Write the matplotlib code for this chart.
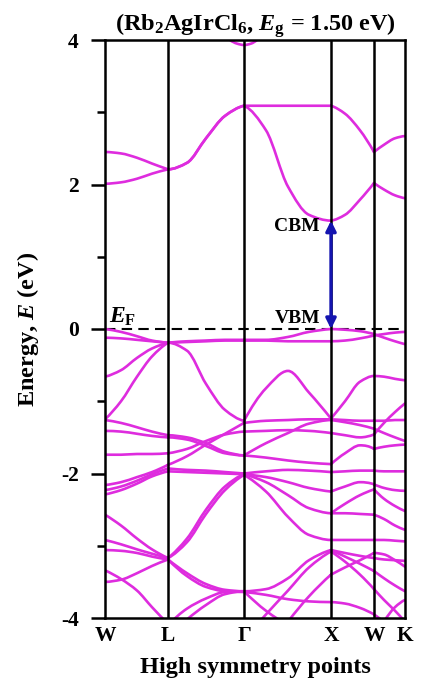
import numpy as np
import matplotlib
matplotlib.use("Agg")
import matplotlib.pyplot as plt
from matplotlib.path import Path
from matplotlib.patches import PathPatch

nan = np.nan

# high symmetry points (path distance, arbitrary units)
sym_labels = ["W", "L", "Γ", "X", "W", "K"]
sym_pos = [0, 63, 139, 226, 269, 300]

# k grid on which bands were read
k_grid = [0, 16, 32, 47, 63, 82, 101, 120, 139, 161, 183, 204, 226, 240, 255, 269, 279, 290, 300]

# conduction bands (eV)
cb1 = [2.01, 2.03, 2.08, 2.15, 2.21, 2.30, 2.64, 2.95, 3.09, 2.75, 1.97, 1.58, 1.50, 1.58, 1.79, 2.02, 1.93, 1.85, 1.81]
cb2 = [2.45, 2.43, 2.37, 2.29, 2.21, 2.30, 2.64, 2.95, 3.09, 3.09, 3.09, 3.09, 3.09, 2.98, 2.75, 2.45, 2.55, 2.64, 2.67]
cb3_k = [118, 125, 132, 139, 146, 152, 160]
cb3 = [4.15, 4.00, 3.95, 3.93, 3.95, 4.00, 4.15]

# valence bands (eV)
vb1 = [0.00, -0.04, -0.10, -0.16, -0.19, -0.17, -0.16, -0.15, -0.15, -0.15, -0.11, -0.04, 0.00, -0.01, -0.03, -0.07, -0.12, -0.17, -0.21]
vb2 = [-0.12, -0.13, -0.15, -0.17, -0.19, -0.18, -0.17, -0.16, -0.16, -0.16, -0.17, -0.17, -0.17, -0.16, -0.13, -0.09, -0.07, -0.05, -0.04]
vb3 = [-0.66, -0.57, -0.40, -0.27, -0.19, -0.30, -0.76, -1.12, -1.27, -0.82, -0.58, -0.88, -1.24, -1.00, -0.73, -0.65, -0.66, -0.69, -0.71]
vb4 = [-1.25, -1.00, -0.66, -0.38, -0.19, nan, nan, nan, nan, nan, nan, nan, nan, nan, nan, nan, nan, nan, nan]
vb5 = [-1.26, -1.30, -1.36, -1.42, -1.47, -1.50, -1.58, -1.70, -1.75, -1.78, -1.82, -1.85, -1.87, -1.72, -1.61, -1.66, -1.63, -1.61, -1.60]
vb6 = [-1.41, -1.42, -1.45, -1.48, -1.50, -1.53, -1.62, -1.72, -1.75, -1.58, -1.44, -1.31, -1.26, -1.29, -1.33, -1.38, -1.44, -1.50, -1.55]
vb7 = [-1.74, -1.74, -1.73, -1.73, -1.72, -1.66, -1.55, -1.46, -1.42, -1.41, -1.40, -1.41, -1.44, -1.47, -1.50, -1.46, -1.30, -1.15, -1.03]
vb8 = [-2.16, -2.12, -2.05, -1.98, -1.88, -1.76, -1.60, -1.45, -1.30, -1.27, -1.26, -1.25, -1.25, -1.26, -1.27, -1.27, -1.27, -1.26, -1.26]
vb9 = [-2.23, -2.18, -2.10, -2.01, -1.93, -1.95, -1.96, -1.98, -2.00, -1.97, -1.95, -1.96, -1.98, -1.97, -1.96, -1.96, -1.97, -1.97, -1.97]
vb10 = [-2.29, -2.23, -2.14, -2.04, -1.97, -1.98, -1.99, -2.00, -2.01, -2.05, -2.12, -2.20, -2.25, -2.18, -2.12, -2.15, -2.20, -2.23, -2.24]
vb11 = [-2.57, -2.72, -2.90, -3.05, -3.17, -2.90, -2.50, -2.18, -2.01, -2.12, -2.30, -2.48, -2.55, -2.42, -2.30, -2.22, -2.35, -2.45, -2.52]
vb12 = [-2.92, -2.98, -3.05, -3.11, -3.17, -2.95, -2.56, -2.23, -2.02, -2.25, -2.60, -2.85, -2.92, -2.92, -2.92, -2.92, -2.92, -2.93, -2.94]
vb13 = [-3.06, -3.07, -3.10, -3.15, -3.19, -3.38, -3.53, -3.61, -3.63, -3.60, -3.45, -3.20, -3.06, -3.15, -3.25, -3.35, -3.45, -3.55, -3.63]
vb14 = [-3.50, -3.47, -3.38, -3.28, -3.19, -3.42, -3.57, -3.63, -3.64, -3.68, -3.74, -3.77, -3.78, -3.80, -3.86, -3.95, -4.05, nan, nan]
vb15 = [-3.34, -3.46, -3.62, -3.85, -4.08, nan, nan, nan, nan, nan, nan, nan, nan, nan, nan, nan, nan, nan, nan]
vb16 = [nan, nan, nan, nan, -4.10, -3.87, -3.73, -3.64, -3.63, -3.90, -4.10, nan, nan, nan, nan, nan, nan, nan, nan]
vb17 = [nan, nan, nan, nan, nan, -4.02, -3.82, -3.67, -3.63, nan, nan, nan, nan, nan, nan, nan, nan, nan, nan]
vb18 = [nan, nan, nan, nan, nan, nan, nan, nan, -4.30, -3.95, -3.62, -3.30, -3.08, -3.22, -3.40, -3.60, -3.75, -3.90, -4.05]
vb19 = [nan, nan, nan, nan, nan, nan, nan, nan, nan, nan, -4.05, -3.70, -3.40, -3.30, -3.20, -3.10, -3.12, -3.20, -3.29]
vb20 = [nan, nan, nan, nan, nan, nan, nan, nan, nan, nan, nan, nan, -3.06, -3.10, -3.14, -3.17, -3.19, -3.20, -3.21]
vb21 = [nan, nan, nan, nan, nan, nan, nan, nan, nan, nan, nan, nan, -2.55, -2.55, -2.56, -2.57, -2.63, -2.72, -2.78]
vb22 = [nan, nan, nan, nan, nan, nan, nan, nan, nan, nan, nan, nan, nan, nan, nan, nan, -4.05, -3.85, -3.75]

conduction = [cb1, cb2]
valence = [vb1, vb2, vb3, vb4, vb5, vb6, vb7, vb8, vb9, vb10, vb11, vb12,
           vb13, vb14, vb15, vb16, vb17, vb18, vb19, vb20, vb21, vb22]

band_gap = 1.50
cbm_k = 226


def end_slope(h0, h1, d0, d1):
    m = ((2 * h0 + h1) * d0 - h0 * d1) / (h0 + h1)
    if np.sign(m) != np.sign(d0):
        return 0.0
    if np.sign(d0) != np.sign(d1) and abs(m) > abs(3 * d0):
        return 3 * d0
    return m


def piece_path(x, y):
    # smooth curve through the read points (monotone cubic, drawn as bezier)
    x = np.asarray(x, float)
    y = np.asarray(y, float)
    h = np.diff(x)
    d = np.diff(y) / h
    n = len(x)
    m = np.zeros(n)
    if n == 2:
        m[:] = d[0]
    else:
        for i in range(1, n - 1):
            if d[i - 1] * d[i] > 0:
                w1 = 2 * h[i] + h[i - 1]
                w2 = h[i] + 2 * h[i - 1]
                m[i] = (w1 + w2) / (w1 / d[i - 1] + w2 / d[i])
        m[0] = end_slope(h[0], h[1], d[0], d[1])
        m[-1] = end_slope(h[-1], h[-2], d[-1], d[-2])
    verts = [(x[0], y[0])]
    codes = [Path.MOVETO]
    for i in range(n - 1):
        verts += [(x[i] + h[i] / 3, y[i] + m[i] * h[i] / 3),
                  (x[i + 1] - h[i] / 3, y[i + 1] - m[i + 1] * h[i] / 3),
                  (x[i + 1], y[i + 1])]
        codes += [Path.CURVE4] * 3
    return verts, codes


def band_path(kx, e):
    kx = np.asarray(kx, float)
    e = np.asarray(e, float)
    verts, codes = [], []
    for a, b in zip(sym_pos[:-1], sym_pos[1:]):
        sel = (kx >= a) & (kx <= b)
        xs, ys = kx[sel], e[sel]
        run_x, run_y = [], []
        for xv, yv in list(zip(xs, ys)) + [(nan, nan)]:
            if np.isnan(yv):
                if len(run_x) >= 2:
                    v, c = piece_path(run_x, run_y)
                    verts += v
                    codes += c
                run_x, run_y = [], []
            else:
                run_x.append(xv)
                run_y.append(yv)
    return Path(verts, codes)


plt.rcParams["font.family"] = ["Liberation Serif", "DejaVu Serif"]
plt.rcParams["font.weight"] = "bold"
plt.rcParams["mathtext.fontset"] = "custom"
plt.rcParams["mathtext.rm"] = "Liberation Serif:bold"
plt.rcParams["mathtext.bf"] = "Liberation Serif:bold"
plt.rcParams["mathtext.it"] = "Liberation Serif:italic:bold"

band_color = "#DE2CDE"

fig = plt.figure(figsize=(4.21, 6.87), dpi=100)
ax = fig.add_axes([105 / 421, 1 - 618 / 687, 300 / 421, 578 / 687])

for b in conduction + valence:
    ax.add_patch(PathPatch(band_path(k_grid, b), fill=False, edgecolor=band_color,
                           lw=1.9, joinstyle="round", capstyle="round", zorder=2))
ax.add_patch(PathPatch(band_path(cb3_k, cb3), fill=False, edgecolor=band_color,
                       lw=1.9, zorder=2))

for p in sym_pos[1:-1]:
    ax.axvline(p, color="black", lw=1.8, zorder=3)

ax.axhline(0, color="black", lw=1.5, ls=(0, (5, 3)), zorder=1)

ax.annotate("", xy=(cbm_k, 0.0), xytext=(cbm_k, band_gap),
            arrowprops=dict(arrowstyle="<|-|>", color="#1414B0", lw=2.4,
                            mutation_scale=15, shrinkA=0, shrinkB=0), zorder=5)

ax.text(215, 1.42, "CBM", fontsize=14, fontweight="bold", ha="right", va="center")
ax.text(215, 0.15, "VBM", fontsize=14, fontweight="bold", ha="right", va="center")
ax.text(4, 0.02, r"$E_{\mathrm{F}}$", fontsize=17, ha="left", va="bottom")

ax.set_xlim(0, 300)
ax.set_ylim(-4, 4)
ax.set_xticks(sym_pos)
ax.set_xticklabels(sym_labels, fontsize=15.5, fontweight="bold")
ax.tick_params(axis="x", length=0, pad=6)
ax.set_yticks([-4, -2, 0, 2, 4])
ax.set_yticklabels(["-4", "-2", "0", "2", "4"], fontsize=15.5, fontweight="bold")
ax.set_yticks([-3, -1, 1, 3], minor=True)
ax.tick_params(axis="y", which="major", direction="out", length=10, width=1.8, pad=9)
ax.tick_params(axis="y", which="minor", direction="out", length=6, width=1.8)

for s in ax.spines.values():
    s.set_linewidth(1.8)

ax.set_xlabel("High symmetry points", fontsize=17.5, fontweight="bold", labelpad=8)
ax.set_ylabel(r"Energy, $E$ (eV)", fontsize=17.5, fontweight="bold", labelpad=14)
ax.set_title(r"(Rb$_2$AgIrCl$_6$, $E_{\mathrm{g}}$ = 1.50 eV)", fontsize=17.5, fontweight="bold", pad=5)

fig.savefig("out.png", dpi=100)
